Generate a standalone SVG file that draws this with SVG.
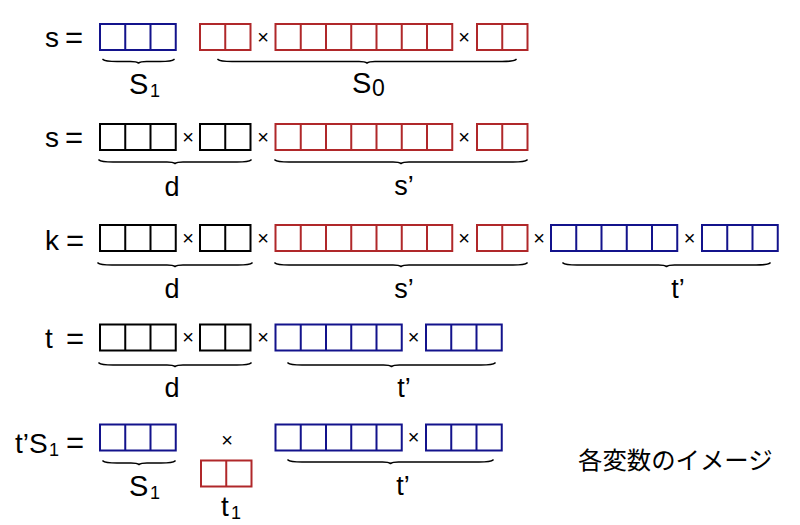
<svg xmlns="http://www.w3.org/2000/svg" xmlns:xlink="http://www.w3.org/1999/xlink" width="800" height="525" viewBox="0 0 800 525">
<style>
.b{fill:none;stroke:#13138c;stroke-width:2}
.r{fill:none;stroke:#b0282a;stroke-width:2}
.k{fill:none;stroke:#000;stroke-width:2}
.br{fill:none;stroke:#000;stroke-width:1.7;stroke-linecap:round;stroke-linejoin:round}
text{font-family:"Liberation Sans",Arial,sans-serif;fill:#000}
.lbl{font-size:28px}
.eq{font-size:31px}
.x{font-size:20px;text-anchor:middle}
.S{font-size:29px}
.l{font-size:27px;text-anchor:middle}
.sub{font-size:18px}
.jp{font-family:"Noto Sans CJK JP","Noto Sans CJK SC",sans-serif;font-size:24.4px}
</style>
<defs>
<g id="c2"><rect x="0" y="0" width="50.5" height="26"/><path d="M25.25 0V26"/></g>
<g id="c3"><rect x="0" y="0" width="75.75" height="26"/><path d="M25.25 0V26M50.5 0V26"/></g>
<g id="c5"><rect x="0" y="0" width="126.25" height="26"/><path d="M25.25 0V26M50.5 0V26M75.75 0V26M101 0V26"/></g>
<g id="c7"><rect x="0" y="0" width="176.75" height="26"/><path d="M25.25 0V26M50.5 0V26M75.75 0V26M101 0V26M126.25 0V26M151.5 0V26"/></g>
</defs>

<g id="row1">
<text class="lbl" x="45" y="47">s</text><text class="eq" x="65" y="48">=</text>
<use xlink:href="#c3" x="100" y="24" class="b"/>
<use xlink:href="#c2" x="200" y="24" class="r"/>
<text class="x" x="263" y="44">×</text>
<use xlink:href="#c7" x="275.5" y="24" class="r"/>
<text class="x" x="464" y="44">×</text>
<use xlink:href="#c2" x="477" y="24" class="r"/>
<text class="S" x="129" y="94">S</text><text class="sub" x="150" y="97">1</text>
<text class="S" x="352" y="93">S</text><text style="font-size:23px" x="372" y="96">0</text>
</g>

<g id="row2">
<text class="lbl" x="45" y="147">s</text><text class="eq" x="65" y="148">=</text>
<use xlink:href="#c3" x="100" y="124" class="k"/>
<text class="x" x="188" y="144">×</text>
<use xlink:href="#c2" x="200" y="124" class="k"/>
<text class="x" x="263" y="144">×</text>
<use xlink:href="#c7" x="275.5" y="124" class="r"/>
<text class="x" x="464" y="144">×</text>
<use xlink:href="#c2" x="477" y="124" class="r"/>
<text class="l" x="172" y="196">d</text>
<text class="l" x="404" y="195">s’</text>
</g>

<g id="row3">
<text class="lbl" x="45" y="250">k</text><text class="eq" x="66" y="251">=</text>
<use xlink:href="#c3" x="100" y="225" class="k"/>
<text class="x" x="188" y="245">×</text>
<use xlink:href="#c2" x="200" y="225" class="k"/>
<text class="x" x="263" y="245">×</text>
<use xlink:href="#c7" x="275.5" y="225" class="r"/>
<text class="x" x="464" y="245">×</text>
<use xlink:href="#c2" x="477" y="225" class="r"/>
<text class="x" x="539" y="245">×</text>
<use xlink:href="#c5" x="551" y="225" class="b"/>
<text class="x" x="689.5" y="245">×</text>
<use xlink:href="#c3" x="702" y="225" class="b"/>
<text class="l" x="172" y="298">d</text>
<text class="l" x="404" y="298">s’</text>
<text class="l" x="678" y="298">t’</text>
</g>

<g id="row4">
<text class="lbl" x="45" y="348">t</text><text class="eq" x="66" y="349">=</text>
<use xlink:href="#c3" x="100" y="324.5" class="k"/>
<text class="x" x="188" y="344">×</text>
<use xlink:href="#c2" x="200" y="324.5" class="k"/>
<text class="x" x="263" y="344">×</text>
<use xlink:href="#c5" x="275.5" y="324.5" class="b"/>
<text class="x" x="413.5" y="344">×</text>
<use xlink:href="#c3" x="426" y="324.5" class="b"/>
<text class="l" x="172" y="397">d</text>
<text class="l" x="404" y="397">t’</text>
</g>

<g id="row5">
<text class="lbl" x="15" y="453">t’S</text><text class="sub" x="49" y="456">1</text><text class="eq" x="66" y="453">=</text>
<use xlink:href="#c3" x="100" y="424.5" class="b"/>
<text class="x" x="227" y="447">×</text>
<use xlink:href="#c2" x="201" y="460.5" class="r"/>
<use xlink:href="#c5" x="275.5" y="424.5" class="b"/>
<text class="x" x="413.5" y="444">×</text>
<use xlink:href="#c3" x="426" y="424.5" class="b"/>
<text class="S" x="129" y="496">S</text><text class="sub" x="150" y="499">1</text>
<text class="lbl" x="221" y="516">t</text><text class="sub" x="231" y="519">1</text>
<text class="l" x="403" y="495">t’</text>
</g>

<g id="caption">
<text class="jp" x="578" y="469">各変数のイメージ</text>
</g>

<g id="braces" class="br">
<path d="M103 59.5Q105 61.5 117 61.5L130.5 61.5Q136.5 61.5 138.5 63Q140.5 61.5 146.5 61.5L160 61.5Q172 61.5 174 59.5"/>
<path d="M218 59.5Q220 61.5 232 61.5L359 61.5Q365 61.5 367 63Q369 61.5 375 61.5L502 61.5Q514 61.5 516 59.5"/>
<path d="M99 160Q101 162 113 162L167 162Q173 162 175 163.5Q177 162 183 162L237 162Q249 162 251 160"/>
<path d="M275 160Q277 162 289 162L393 162Q399 162 401 163.5Q403 162 409 162L513 162Q525 162 527 160"/>
<path d="M98 263Q100 265 112 265L167 265Q173 265 175 266.5Q177 265 183 265L238 265Q250 265 252 263"/>
<path d="M275 263Q277 265 289 265L393 265Q399 265 401 266.5Q403 265 409 265L513 265Q525 265 527 263"/>
<path d="M563 263Q565 265 577 265L658.5 265Q664.5 265 666.5 266.5Q668.5 265 674.5 265L756 265Q768 265 770 263"/>
<path d="M99 363Q101 365 113 365L167 365Q173 365 175 366.5Q177 365 183 365L237 365Q249 365 251 363"/>
<path d="M288 363Q290 365 302 365L383.5 365Q389.5 365 391.5 366.5Q393.5 365 399.5 365L481 365Q493 365 495 363"/>
<path d="M103 461Q105 463 117 463L131 463Q137 463 139 464.5Q141 463 147 463L161 463Q173 463 175 461"/>
<path d="M288 460Q290 462 302 462L382.5 462Q388.5 462 390.5 463.5Q392.5 462 398.5 462L479 462Q491 462 493 460"/>
</g>
</svg>
